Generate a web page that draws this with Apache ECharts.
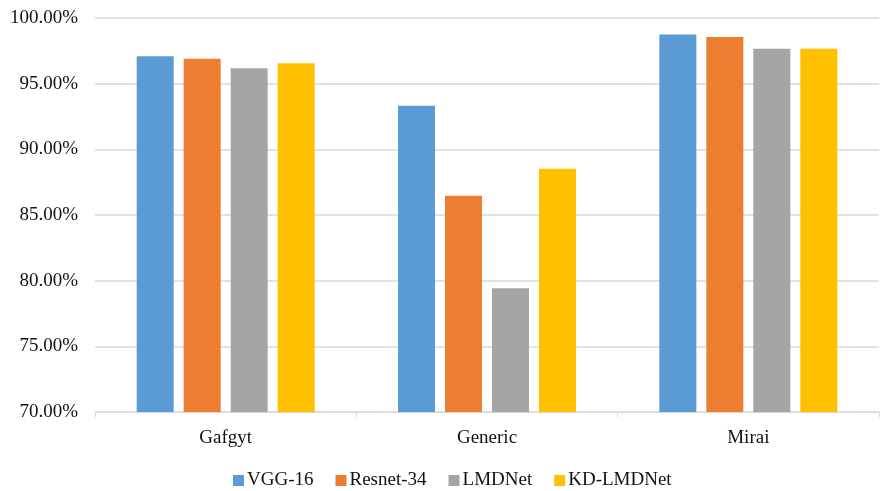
<!DOCTYPE html>
<html>
<head>
<meta charset="utf-8">
<script src="https://cdn.jsdelivr.net/npm/echarts@6/dist/echarts.min.js"></script>
<style>
  html, body { margin: 0; padding: 0; background: #fff; }
  #chart { width: 880px; height: 491px; }
</style>
</head>
<body>
<div id="chart"></div>
<script>
// Detection accuracy (%) per botnet family for each model
const categories = ['Gafgyt', 'Generic', 'Mirai'];
const seriesNames = ['VGG-16', 'Resnet-34', 'LMDNet', 'KD-LMDNet'];
const vgg16 = [97.08, 93.31, 98.74];
const resnet34 = [96.89, 86.47, 98.56];
const lmdnet = [96.17, 79.42, 97.65];
const kdLmdnet = [96.55, 88.52, 97.65];
const colors = ['#5B9BD5', '#ED7D31', '#A5A5A5', '#FFC000'];

const seriesValues = [vgg16, resnet34, lmdnet, kdLmdnet];
const font = '"Liberation Serif", "Times New Roman", serif';

const chart = echarts.init(document.getElementById('chart'));
chart.setOption({
  animation: false,
  color: colors,
  grid: { left: 95, right: 1, top: 18, bottom: 79 },
  legend: {
    data: seriesNames,
    bottom: -4,
    left: 228,
    icon: 'rect',
    itemWidth: 11,
    itemHeight: 11,
    itemGap: 22,
    textStyle: { fontFamily: font, fontSize: 19, color: '#111', padding: [0, 0, 0, -2] }
  },
  xAxis: {
    type: 'category',
    data: categories,
    axisLine: { lineStyle: { color: '#D9D9D9', width: 1 } },
    axisTick: { show: true, length: 5, lineStyle: { color: '#D9D9D9' } },
    axisLabel: { fontFamily: font, fontSize: 19, color: '#111', margin: 17 }
  },
  yAxis: {
    type: 'value',
    min: 70,
    max: 100,
    interval: 5,
    axisLine: { show: false },
    axisTick: { show: false },
    splitLine: { lineStyle: { color: '#D9D9D9', width: 1.5 } },
    axisLabel: {
      fontFamily: font, fontSize: 19, color: '#111', margin: 17,
      formatter: v => v.toFixed(2) + '%'
    }
  },
  series: seriesNames.map((name, i) => ({
    name,
    type: 'bar',
    data: seriesValues[i],
    barWidth: 37,
    barGap: '27%'
  }))
});
</script>
</body>
</html>
